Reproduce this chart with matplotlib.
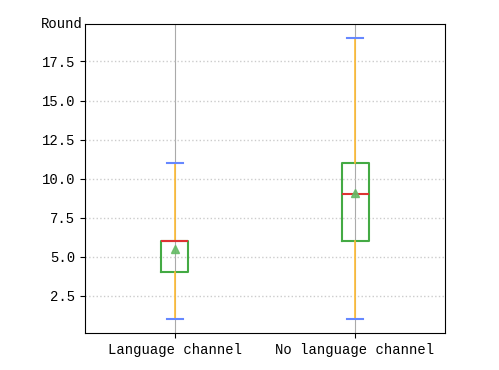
import matplotlib
matplotlib.use('Agg')
import matplotlib.pyplot as plt

plt.rcParams['font.family'] = ['Liberation Mono', 'DejaVu Sans Mono']

# box stats
labels = ['Language channel', 'No language channel']
mins = [1, 1]
q1s = [4, 6]
medians = [6, 9]
q3s = [6, 11]
maxs = [11, 19]
means = [5.5, 9.1]

stats = []
for i in range(len(labels)):
    stats.append(dict(label=labels[i], whislo=mins[i], q1=q1s[i], med=medians[i],
                      q3=q3s[i], whishi=maxs[i], mean=means[i], fliers=[]))

fig = plt.figure(figsize=(4.99, 3.70), dpi=100)
ax = fig.add_axes([0.170, 0.100, 0.722, 0.835])

ax.grid(axis='x', color='#aaaaaa', linewidth=0.8, linestyle='-', zorder=0)
ax.grid(axis='y', color='#cccccc', linewidth=1.0, linestyle=':', zorder=0)
ax.set_axisbelow(True)

ax.bxp(stats, widths=0.15, capwidths=0.09, showmeans=True,
       boxprops=dict(color='#44aa44', linewidth=1.5),
       whiskerprops=dict(color='#ffbb33', linewidth=1.2),
       capprops=dict(color='#6688ff', linewidth=1.5),
       medianprops=dict(color='#dd3333', linewidth=1.5),
       meanprops=dict(marker='^', markerfacecolor='#66bb66', markeredgecolor='#66bb66',
                      markersize=6, alpha=0.9))

ax.set_xlim(0.5, 2.5)
ax.set_ylim(0.1, 19.9)
ax.set_yticks([2.5, 5.0, 7.5, 10.0, 12.5, 15.0, 17.5])
ax.set_yticklabels(['2.5', '5.0', '7.5', '10.0', '12.5', '15.0', '17.5'])
ax.tick_params(labelsize=10)
ax.text(-0.005, 1.0, 'Round', transform=ax.transAxes, ha='right', va='center', fontsize=10)

fig.savefig('out.png', dpi=100)
